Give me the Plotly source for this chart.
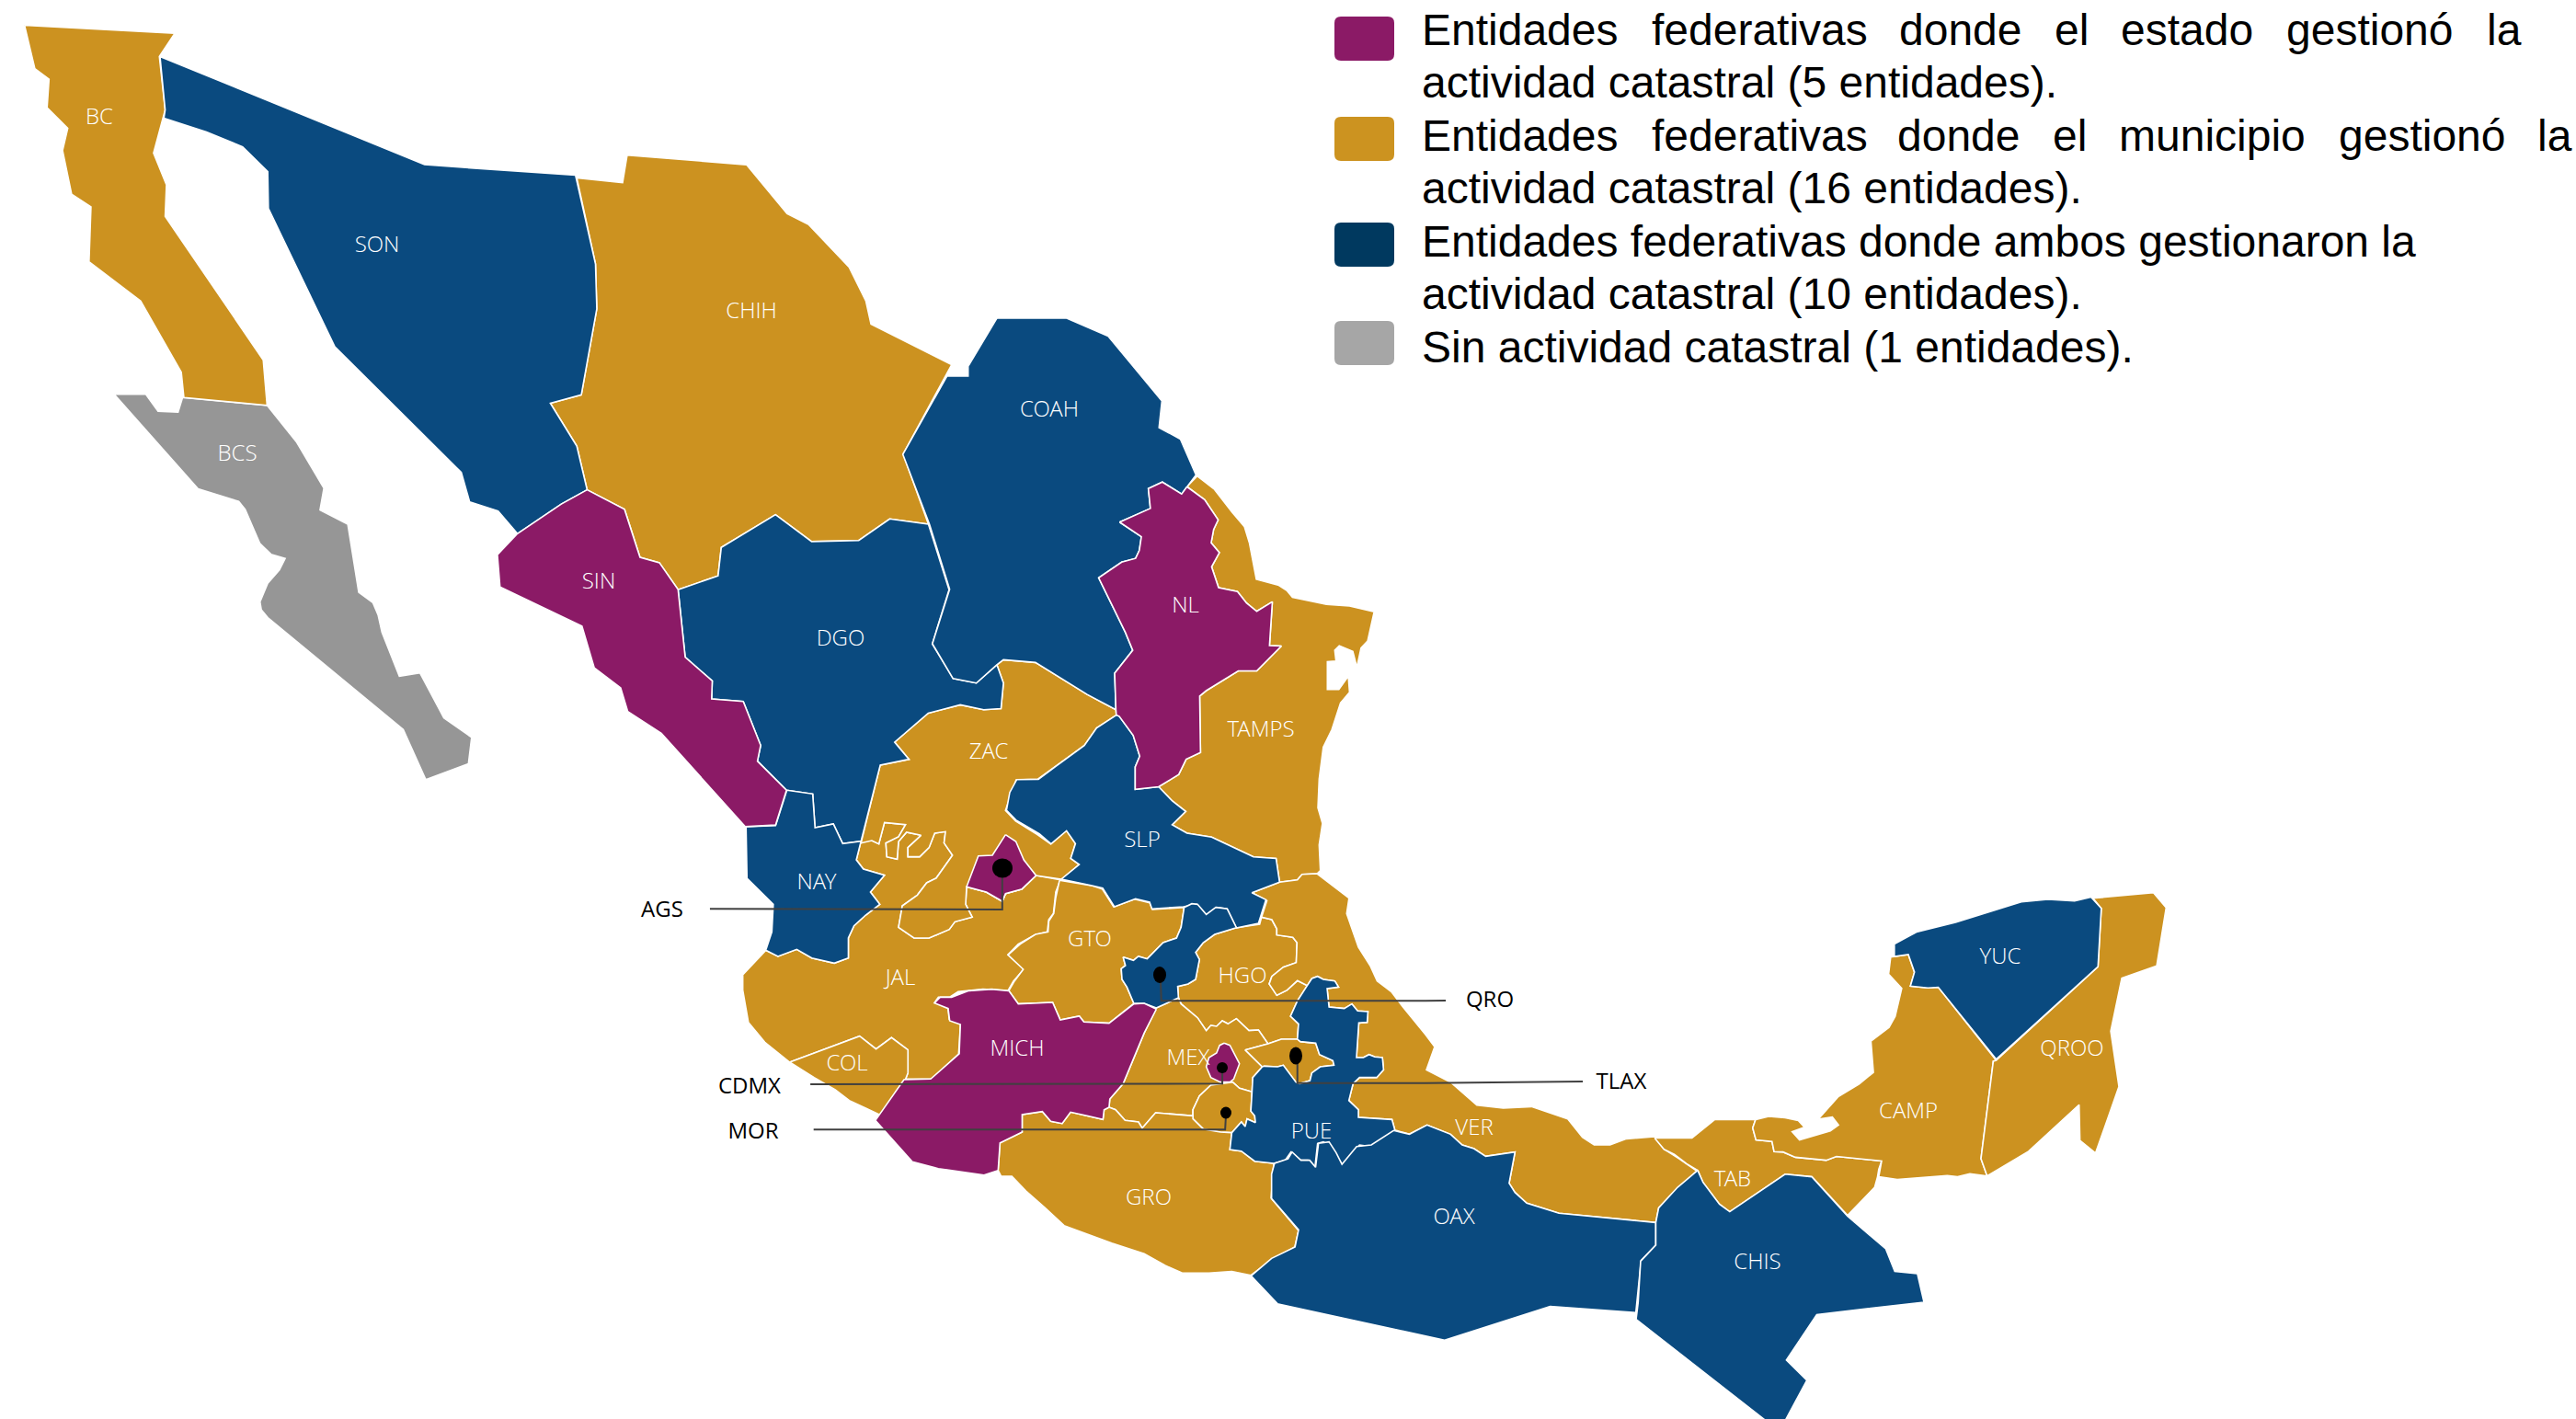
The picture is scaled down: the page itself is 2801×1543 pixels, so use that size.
import plotly.graph_objects as go

def crop(x0, y0, w, h, H):
    return lambda pts: [(x0 + a * w / 1568, y0 + b * h / H) for a, b in pts]

z1 = crop(0, 0, 1100, 900, 1568)
z2 = crop(750, 800, 800, 500, 1500)
z3 = crop(900, 950, 650, 450, 1350)
z4 = crop(1700, 900, 700, 640, 1568)
z6 = crop(900, 300, 700, 650, 1568)
z7 = crop(1000, 1100, 1000, 440, 1320)

BC = z1([(38,48),(271,63),(247,107),(256,208),(238,290),(258,350),(256,410),(408,682),(414,768),(285,753),(281,705),(218,570),(138,496),(141,392),(111,368),(97,285),(105,243),(73,204),(76,150),(54,130)])
BCS = z1([(177,747),(226,747),(245,779),(276,781),(283,753),(414,768),(460,838),(502,925),(496,966),(539,993),(556,1122),(578,1142),(586,1165),(592,1198),(619,1281),(651,1275),(688,1360),(731,1397),(726,1447),(660,1477),(625,1382),(415,1170),(405,1155),(403,1140),(415,1105),(433,1080),(442,1058),(420,1050),(403,1030),(392,1000),(380,965),(370,950),(307,926)])
SON = z1([(248,107),(658,312),(892,332),(923,500),(925,585),(901,748),(853,764),(894,845),(910,928),(870,955),(802,1011),(772,968),(728,951),(715,895),(519,657),(416,395),(415,325),(376,278),(320,250),(254,224),(256,208)])
CHIH = z1([(894,337),(965,346),(972,294),(1157,312),(1220,405),(1253,425),(1316,506),(1342,570),(1350,614),(1475,691),(1400,860),(1439,993),(1379,983),(1331,1024),(1258,1026),(1202,975),(1118,1037),(1113,1091),(1051,1117),(1022,1066),(992,1056),(968,965),(910,928),(894,845),(853,764),(901,748),(925,585),(923,500)])
SIN = z1([(910,928),(968,965),(992,1056),(1022,1066),(1051,1117),(1062,1245),(1104,1290),(1103,1324),(1152,1329),(1179,1412),(1174,1442),(1219,1497),(1202,1563),(1155,1566),(1025,1389),(973,1348),(962,1303),(921,1265),(902,1186),(775,1112),(771,1051),(802,1011),(870,955)])
DGO = (z1([(1051,1117),(1113,1091),(1118,1037),(1202,975),(1258,1026),(1331,1024),(1379,983),(1439,993),(1471,1117),(1445,1220),(1478,1286)])
       + z6([(305,1056),(362,1068),(412,1020),(428,1068),(422,1135),(380,1138),(323,1125),(245,1147),(163,1223),(198,1268),(128,1283)])
       + z2([(365,344),(326,352),(306,288),(267,300),(262,190),(207,178)])
       + z1([(1219,1497),(1174,1442),(1179,1412),(1152,1329),(1103,1324),(1104,1290),(1062,1245)]))
COAH = z6([(412,111),(582,111),(683,158),(814,328),(807,398),(859,428),(897,522),(875,553),(862,572),(815,541),(781,558),(786,610),(711,646),(764,684),(759,720),(750,741),(716,751),(660,792),(725,935),(743,982),(699,1042),(702,1138),(632,1098),(506,1014),(428,1007),(412,1020),(362,1068),(305,1056),(255,965),(297,822),(248,652),(183,468),(291,262),(342,263),(342,237)])
NL = z6([(875,553),(918,587),(951,640),(940,665),(934,700),(954,726),(935,763),(952,818),(998,828),(1020,858),(1045,880),(1083,855),(1076,970),(1105,971),(1045,1036),(1000,1036),(922,1088),(906,1102),(908,1250),(873,1268),(855,1308),(806,1340),(749,1347),(749,1288),(760,1260),(744,1205),(710,1155),(703,1152),(702,1138),(699,1042),(743,982),(725,935),(660,792),(716,751),(750,741),(759,720),(764,684),(711,646),(786,610),(781,558),(815,541),(862,572)])
TAMPS = (z6([(875,553),(900,525),(942,560),(985,620),(1015,658),(1027,700),(1044,796),(1097,811),(1118,825),(1132,843),(1215,862),(1271,866),(1331,881),(1315,958),(1299,976),(1289,1027),(1279,985),(1246,970),(1235,982),(1238,1010),(1217,1012),(1217,1085),(1245,1085),(1268,1050),(1271,1092),(1249,1120),(1228,1190),(1207,1236),(1197,1320),(1194,1395),(1205,1436),(1197,1493),(1200,1560)])
         + z2([(1337,450),(1305,452),(1295,470),(1257,478)])
         + z6([(1092,1528),(1037,1524),(935,1472),(875,1462),(839,1440),(872,1405),(840,1378),(806,1340),(855,1308),(873,1268),(908,1250),(906,1102),(922,1088),(1000,1036),(1045,1036),(1105,971),(1076,970),(1083,855),(1045,880),(1020,858),(998,828),(952,818),(935,763),(954,726),(934,700),(940,665),(951,640),(918,587)]))
ZAC = (z6([(128,1283),(198,1268),(163,1223),(245,1147),(323,1125),(380,1138),(422,1135),(428,1068),(412,1020),(428,1007),(506,1014),(632,1098),(702,1138),(703,1152),(655,1186),(625,1232),(512,1320),(459,1322),(433,1402),(458,1430),(510,1465),(543,1490),(582,1453)])
       + z2([(803,310),(822,352),(812,400),(830,420),(792,468),(738,456),(708,500),(673,515),(666,540),(632,510),(590,493),(588,550),(602,592),(565,607),(553,632),(510,660),(478,660),(445,625),(453,555),(485,520),(505,480),(525,465),(560,390),(542,350),(545,313),(522,318),(510,365),(490,395),(465,395),(465,365),(493,325),(462,315),(445,345),(442,403),(420,395),(418,350),(445,330),(460,290),(415,283),(403,353),(388,342),(365,350)]))
AGS = z2([(673,323),(695,345),(712,405),(738,456),(708,500),(673,515),(666,540),(632,510),(590,493),(615,392),(645,390)])
NAY = z2([(207,178),(262,190),(267,300),(306,288),(326,352),(365,344),(355,405),(370,435),(415,455),(385,510),(405,550),(375,585),(350,620),(338,660),(338,725),(308,742),(260,725),(228,697),(188,720),(162,700),(175,640),(178,550),(122,465),(120,297),(183,293)])
JAL = z2([(365,344),(355,405),(370,435),(415,455),(385,510),(405,550),(375,585),(350,620),(338,660),(338,725),(308,742),(260,725),(228,697),(188,720),(162,700),(113,780),(113,830),(125,935),(160,1000),(213,1065),(362,980),(397,1022),(430,985),(465,1025),(465,1100),(460,1120),(515,1120),(573,1038),(577,940),(553,925),(550,885),(522,870),(530,853),(555,852),(572,835),(625,827),(678,832),(690,800),(712,762),(678,715),(700,680),(735,650),(762,640),(765,600),(775,580),(780,510),(790,470),(738,456),(708,500),(673,515),(666,540),(632,510),(590,493),(588,550),(602,592),(565,607),(553,632),(510,660),(478,660),(445,625),(453,555),(485,520),(505,480),(525,465),(560,390),(542,350),(545,313),(522,318),(510,365),(490,395),(465,395),(465,365),(493,325),(462,315),(445,345),(442,403),(420,395),(418,350),(445,330),(460,290),(415,283),(403,353),(388,342)])
COL = z2([(213,1065),(362,980),(397,1022),(430,985),(465,1025),(465,1100),(460,1120),(440,1160),(432,1190),(405,1237),(375,1215),(340,1190),(310,1155),(265,1115)])
MICH = z3([(862,442),(830,520),(800,610),(775,685),(740,735),(738,762),(725,770),(722,802),(680,790),(637,778),(615,815),(585,808),(563,776),(510,786),(510,843),(452,878),(447,968),(410,983),(290,962),(222,940),(125,805),(175,715),(200,672),(270,670),(345,588),(348,492),(320,480),(316,440),(280,422),(295,403),(325,403),(370,382),(430,377),(475,382),(500,425),(590,420),(610,477),(660,465),(672,484),(738,488),(803,425),(830,423)])
GTO = z3([(608,22),(695,40),(720,50),(750,108),(805,83),(845,95),(852,117),(935,110),(927,175),(915,210),(880,225),(838,278),(815,270),(802,283),(775,272),(781,300),(770,310),(772,345),(785,370),(803,423),(738,488),(672,484),(660,465),(610,477),(590,420),(500,425),(475,382),(490,350),(513,312),(473,265),(505,230),(545,198),(578,190),(580,155),(593,130),(598,80)])
SLP = (z6([(703,1152),(710,1155),(744,1205),(760,1260),(749,1288),(749,1347),(806,1340),(840,1378),(872,1405),(839,1440),(875,1462),(935,1472),(1037,1524),(1092,1528)])
       + z2([(1257,478),(1198,512),(1228,535),(1212,612),(1165,627),(1150,580),(1145,565),(1123,560),(1100,585),(1080,550),(1052,558),(985,565),(980,543),(950,532),(905,558),(880,497),(855,488),(792,468),(830,420),(812,400),(822,352),(803,310),(770,353),(745,320),(695,275),(675,243),(682,185),(697,143),(743,142),(780,100)])
       + z6([(625,1232),(655,1186)]))
QRO = z3([(935,110),(955,98),(970,100),(993,133),(1018,110),(1048,115),(1072,176),(1015,198),(985,225),(965,257),(975,280),(965,345),(945,360),(918,368),(920,405),(862,438),(830,423),(803,423),(785,370),(772,345),(770,310),(781,300),(775,272),(802,283),(815,270),(838,278),(880,225),(915,210),(927,175)])
HGO = z3([(1072,176),(1133,165),(1138,142),(1165,150),(1178,180),(1178,200),(1220,208),(1231,225),(1229,290),(1195,305),(1165,335),(1158,360),(1178,397),(1205,380),(1232,349),(1258,365),(1232,415),(1214,465),(1235,490),(1232,540),(1190,540),(1155,555),(1130,510),(1105,512),(1072,473),(1050,490),(1035,480),(1020,498),(1005,495),(993,512),(970,470),(927,425),(920,405),(918,368),(945,360),(965,345),(975,280),(965,257),(985,225),(1015,198)])
MEX = z3([(862,438),(920,405),(927,425),(970,470),(993,512),(1005,495),(1020,498),(1035,480),(1050,490),(1072,473),(1105,512),(1130,510),(1155,555),(1095,575),(1140,630),(1115,665),(1113,712),(1080,700),(1062,680),(1005,690),(975,725),(958,770),(958,790),(860,780),(825,830),(815,810),(780,805),(755,770),(738,762),(740,735),(775,685),(800,610),(830,520)])
CDMX = z3([(1040,553),(1055,560),(1080,620),(1065,670),(1055,680),(1030,680),(1005,665),(993,630),(1000,600),(1020,585),(1028,560)])
MOR = z3([(1062,680),(1080,700),(1113,712),(1110,775),(1120,790),(1122,812),(1100,800),(1095,825),(1085,810),(1060,845),(1030,843),(985,833),(958,800),(958,770),(975,725),(1005,690)])
TLAX = z3([(1095,575),(1155,555),(1190,540),(1232,540),(1240,548),(1280,553),(1290,590),(1325,610),(1328,625),(1292,630),(1270,650),(1265,675),(1238,685),(1228,680),(1195,625),(1180,630),(1145,628),(1140,630)])
PUE = z3([(1258,365),(1270,342),(1285,335),(1300,345),(1330,350),(1340,370),(1310,375),(1315,435),(1355,440),(1375,425),(1390,448),(1417,450),(1415,485),(1393,487),(1387,600),(1405,600),(1420,590),(1435,598),(1455,600),(1458,640),(1440,665),(1395,665),(1378,685),(1367,740),(1392,770),(1392,795),(1480,802),(1488,838),(1425,890),(1395,885),(1350,950),(1320,890),(1300,875),(1285,880),(1278,958),(1260,935),(1240,935),(1215,908),(1200,935),(1170,945),(1120,938),(1085,905),(1055,900),(1060,845),(1085,810),(1095,825),(1100,800),(1122,812),(1120,790),(1110,775),(1113,712),(1115,665),(1140,630),(1145,628),(1180,630),(1195,625),(1228,680),(1238,685),(1265,675),(1270,650),(1292,630),(1328,625),(1325,610),(1290,590),(1280,553),(1240,548),(1232,540),(1235,490),(1214,465),(1232,415)])
VER = (z2([(1198,512),(1257,478),(1295,470),(1305,452),(1337,450),(1405,530),(1400,580),(1425,690),(1450,750),(1465,800),(1495,835),(1520,885),(1568,975)])
       + z7([(878,115),(864,190),(905,230),(950,305),(995,315),(1043,310),(1105,350),(1130,410),(1150,435),(1177,435),(1205,415),(1253,408),(1270,450),(1295,480),(1325,520),(1285,590),(1260,640),(1255,688),(1090,658),(1035,625),(1015,590),(1005,560),(1015,458),(965,472),(945,447),(925,435),(905,400),(865,370),(835,400),(813,388)])
       + z3([(1488,838),(1480,802),(1392,795),(1392,770),(1367,740),(1378,685),(1395,665),(1440,665),(1458,640),(1455,600),(1435,598),(1420,590),(1405,600),(1387,600),(1393,487),(1415,485),(1417,450),(1390,448),(1375,425),(1355,440),(1315,435),(1310,375),(1340,370),(1330,350),(1300,345),(1285,335),(1270,342),(1258,365),(1232,349),(1205,380),(1178,397),(1158,360),(1165,335),(1195,305),(1229,290),(1231,225),(1220,208),(1178,200),(1178,180),(1165,150),(1138,142),(1152,88)]))
GRO = z3([(510,786),(563,776),(585,808),(615,815),(637,778),(680,790),(722,802),(725,770),(738,762),(755,770),(780,805),(815,810),(825,830),(860,780),(958,790),(958,800),(985,833),(1030,843),(1060,845),(1055,900),(1085,905),(1120,938),(1170,945),(1163,1058),(1235,1165),(1225,1218),(1165,1260),(1110,1310),(1060,1298),(1000,1303),(930,1303),(885,1278),(830,1240),(745,1205),(620,1148),(570,1090),(520,1035),(483,987),(455,987),(447,968),(452,878),(510,843)])
OAX = z7([(605,495),(628,480),(635,458),(650,485),(665,485),(675,508),(680,430),(698,425),(710,460),(720,498),(745,440),(770,435),(808,388),(835,400),(865,370),(905,400),(925,435),(945,447),(965,472),(1015,458),(1005,560),(1015,590),(1035,625),(1090,658),(1255,688),(1255,762),(1230,812),(1225,920),(1221,982),(1075,962),(895,1072),(610,953),(565,862),(600,805),(640,768),(646,712),(600,610),(600,530)])
CHIS = z4([(327,913),(340,945),(380,1003),(405,1023),(540,923),(605,930),(692,1035),(785,1122),(807,1182),(862,1188),(878,1264),(617,1297),(543,1418),(593,1472),(535,1590),(505,1590),(177,1310),(182,1265),(188,1155),(225,1112),(225,1052),(232,1013),(278,958)])
TAB = z4([(222,827),(313,827),(368,778),(468,778),(461,800),(469,832),(508,836),(513,863),(535,864),(565,878),(640,886),(665,876),(775,888),(768,910),(765,930),(758,958),(692,1033),(605,930),(540,923),(405,1023),(380,1003),(340,945),(327,913),(300,895),(270,870),(245,857)])
CAMP = z4([(468,778),(500,769),(540,773),(572,780),(587,798),(557,810),(575,832),(650,808),(670,792),(655,771),(620,777),(670,716),(720,683),(755,652),(749,569),(793,532),(808,503),(824,428),(792,390),(797,345),(840,338),(855,385),(845,422),(888,427),(913,425),(1054,620),(1047,622),(1017,882),(1032,928),(990,922),(960,930),(935,927),(813,937),(768,930),(775,888),(665,876),(640,886),(565,878),(535,864),(513,863),(508,836),(469,832),(461,800)])
YUC = z4([(806,310),(860,278),(955,252),(1115,198),(1180,191),(1245,195),(1285,185),(1310,215),(1302,370),(1054,617),(913,425),(888,427),(845,422),(855,385),(840,338),(806,343)])
QROO = z4([(1290,188),(1437,173),(1468,213),(1445,368),(1360,401),(1333,542),(1353,690),(1296,867),(1258,833),(1256,738),(1133,862),(1032,928),(1017,882),(1047,622),(1054,620),(1302,370),(1310,215)])

ESTADO_COLOR = "#8B1A66"
MUNICIPIO_COLOR = "#CC9220"
AMBOS_COLOR = "#0A4A7F"
SIN_COLOR = "#969696"

ESTATALES = [SIN, NL, AGS, MICH, CDMX]
MUNICIPALES = [BC, CHIH, TAMPS, JAL, ZAC, COL, GTO, HGO, VER, MEX, MOR, TLAX, GRO, TAB, CAMP, QROO]
AMBOS = [SON, DGO, COAH, SLP, NAY, QRO, PUE, OAX, CHIS, YUC]
SIN_ACTIVIDAD = [BCS]

STATE_LABELS = ["BC","BCS","SON","CHIH","SIN","DGO","COAH","NL","TAMPS","ZAC","SLP","NAY","JAL","GTO","HGO","COL","MICH","MEX","PUE","VER","GRO","OAX","CHIS","TAB","CAMP","QROO","YUC"]
STATE_LABEL_X = [108,258,410,817,651,914,1141,1289,1371,1075,1242,888,979,1185,1351,921,1106,1292,1426,1603,1249,1581,1911,1884,2075,2253,2175]
STATE_LABEL_Y = [129,495,268,340,634,696,447,660,795,819,915,961,1065,1023,1063,1158,1142,1152,1232,1228,1304,1325,1374,1284,1210,1142,1042]

CALLOUTS = ["AGS","CDMX","MOR","QRO","TLAX"]
CALLOUT_X = [720,815,819,1620,1763]
CALLOUT_Y = [991,1183,1232,1089,1178]

LEADER_AGS = z2([(43,565),(666,567),(666,435)])
LEADER_CDMX = z2([(257,1137),(1135,1135),(1135,1083)])
LEADER_MOR = z2([(264,1285),(1141,1285),(1143,1230)])
LEADER_QRO = z2([(1003,780),(1005,865),(1568,865)]) + [(1572, 1088)]
LEADER_TLAX = z2([(1295,1045),(1295,1133),(1568,1133)]) + [(1721, 1176)]
LEADERS = [LEADER_AGS, LEADER_CDMX, LEADER_MOR, LEADER_QRO, LEADER_TLAX]

# centre x, centre y, half width, half height of the pins
PINS = [(1090,944,11,10.5),(1261,1060,7,9),(1329,1161,6,6),(1333,1210,6,6.5),(1409,1148,7,9.5)]

SWATCH_COLORS = ["#8B1A66","#CC9320","#00395F","#A6A6A6"]
SWATCH_TOPS = [18,127,242,349]

# Justified lines are placed word by word
LEGEND_WORDS = ["Entidades","federativas","donde","el","estado","gestionó","la"]
LEGEND_WORDS_X = [1544,1794,2063,2232,2304,2484,2702]
LEGEND_WORDS2 = ["Entidades","federativas","donde","el","municipio","gestionó","la"]
LEGEND_WORDS2_X = [1544,1794,2061,2230,2302,2541,2757]
LEGEND_LINES = ["actividad catastral (5 entidades).","actividad catastral (16 entidades).","Entidades federativas donde ambos gestionaron la","actividad catastral (10 entidades).","Sin actividad catastral (1 entidades)."]
LEGEND_LINES_Y = [89,204,262,319,377]
LEGEND_WORDS_Y = 32
LEGEND_WORDS2_Y = 147

fig = go.Figure()

def add_group(group, color):
    for outline in group:
        xs = [p[0] for p in outline] + [outline[0][0]]
        ys = [p[1] for p in outline] + [outline[0][1]]
        fig.add_trace(go.Scatter(x=xs, y=ys, mode="lines", fill="toself", fillcolor=color,
                                 line=dict(color="white", width=1.6), hoverinfo="skip", showlegend=False))

add_group(SIN_ACTIVIDAD, SIN_COLOR)
add_group(MUNICIPALES, MUNICIPIO_COLOR)
add_group(AMBOS, AMBOS_COLOR)
add_group(ESTATALES, ESTADO_COLOR)

fig.add_trace(go.Scatter(x=STATE_LABEL_X, y=STATE_LABEL_Y, text=STATE_LABELS, mode="text", textposition="middle center",
                         textfont=dict(family="Open Sans Light, Open Sans", size=24, color="white"), hoverinfo="skip", showlegend=False))
for leader in LEADERS:
    fig.add_trace(go.Scatter(x=[p[0] for p in leader], y=[p[1] for p in leader], mode="lines",
                             line=dict(color="#404040", width=2), hoverinfo="skip", showlegend=False))
fig.add_trace(go.Scatter(x=CALLOUT_X, y=CALLOUT_Y, text=CALLOUTS, mode="text", textposition="middle center",
                         textfont=dict(family="Open Sans", size=24, color="black"), hoverinfo="skip", showlegend=False))

shapes = []
for cx, cy, rx, ry in PINS:
    shapes.append(dict(type="circle", xref="x", yref="y", x0=cx-rx, x1=cx+rx, y0=cy-ry, y1=cy+ry,
                       fillcolor="black", line=dict(width=0), layer="above"))
for color, top in zip(SWATCH_COLORS, SWATCH_TOPS):
    l, r, t, b, c = 1451, 1516, top, top + 48, 7
    path = (f"M{l+c},{t} L{r-c},{t} Q{r},{t} {r},{t+c} L{r},{b-c} Q{r},{b} {r-c},{b} "
            f"L{l+c},{b} Q{l},{b} {l},{b-c} L{l},{t+c} Q{l},{t} {l+c},{t} Z")
    shapes.append(dict(type="path", xref="x", yref="y", path=path, fillcolor=color, line=dict(width=0)))

ann = []
LEG_FONT = dict(family="Liberation Sans", size=48, color="black")
for word, x in zip(LEGEND_WORDS, LEGEND_WORDS_X):
    ann.append(dict(x=x, y=LEGEND_WORDS_Y, text=word, xref="x", yref="y", xanchor="left", yanchor="middle", showarrow=False, font=LEG_FONT))
for word, x in zip(LEGEND_WORDS2, LEGEND_WORDS2_X):
    ann.append(dict(x=x, y=LEGEND_WORDS2_Y, text=word, xref="x", yref="y", xanchor="left", yanchor="middle", showarrow=False, font=LEG_FONT))
for line, y in zip(LEGEND_LINES, LEGEND_LINES_Y):
    ann.append(dict(x=1544, y=y, text=line, xref="x", yref="y", xanchor="left", yanchor="middle", showarrow=False, font=LEG_FONT))

fig.update_layout(width=2801, height=1543, margin=dict(l=0, r=0, t=0, b=0), paper_bgcolor="white", plot_bgcolor="white",
                  shapes=shapes, annotations=ann,
                  xaxis=dict(range=[0, 2801], visible=False, fixedrange=True),
                  yaxis=dict(range=[1543, 0], visible=False, fixedrange=True))
fig.write_html("out.html", config=dict(displayModeBar=False),
               post_script="document.body.style.margin='0';document.body.style.overflow='hidden';")
